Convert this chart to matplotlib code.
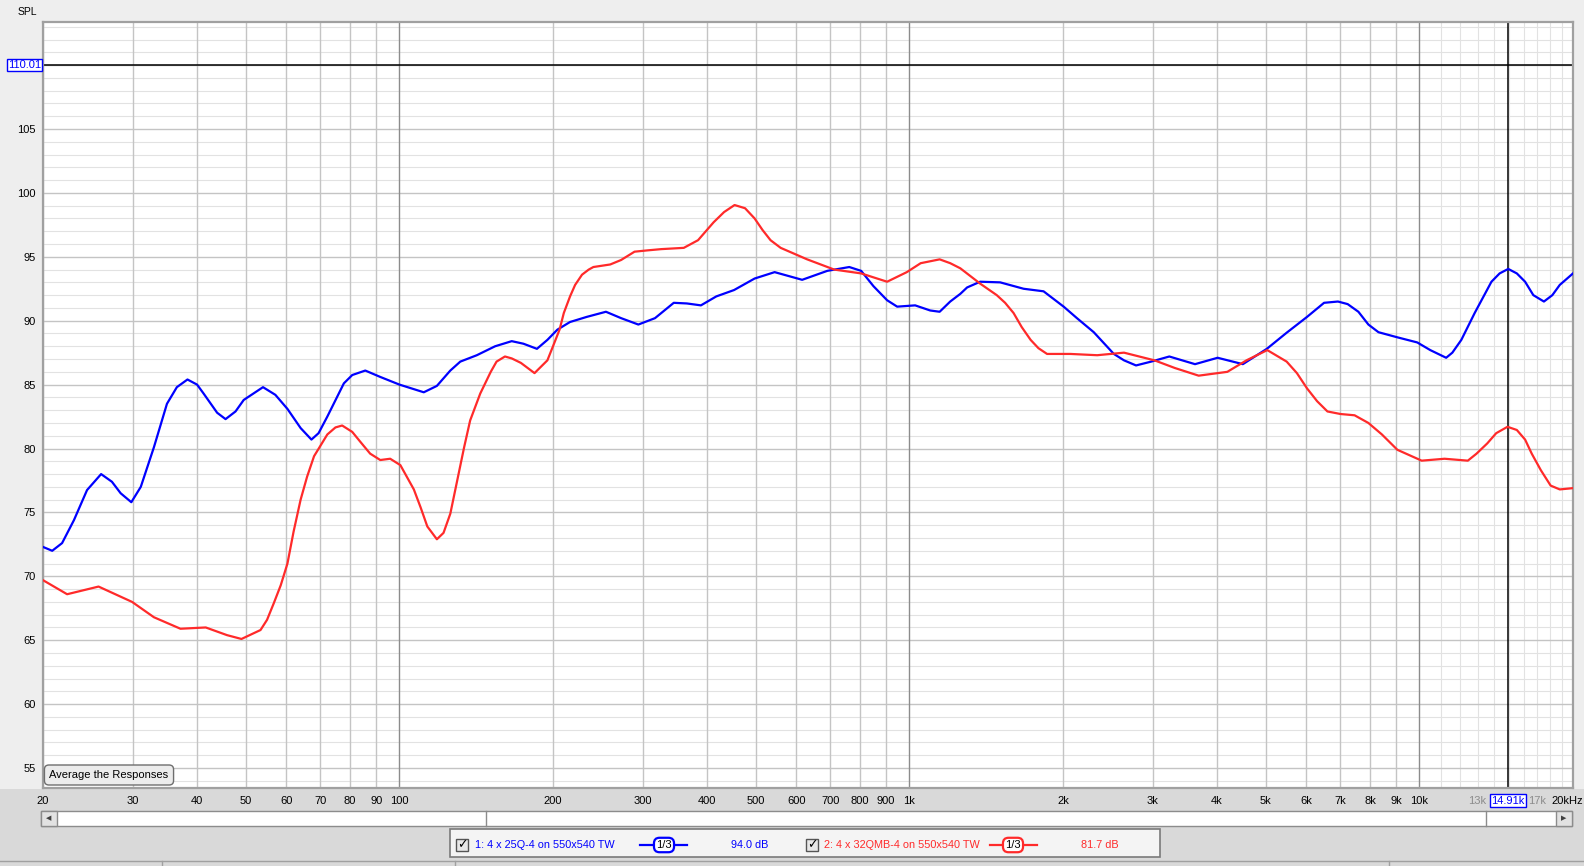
import matplotlib
matplotlib.use("Agg")
import matplotlib.pyplot as plt
from matplotlib.patches import Rectangle
from matplotlib.lines import Line2D
from matplotlib.transforms import ScaledTranslation

plt.rcParams['font.family'] = ['Liberation Sans', 'DejaVu Sans']

# response 1: 4 x 25Q-4 on 550x540 TW (blue)
blue_freq = [20, 20.85, 21.8, 23.0, 24.4, 26.0, 27.3, 28.4, 29.8, 31.1, 33.0, 35.0, 36.6, 38.4,
             40.1, 41.3, 43.9, 45.6, 47.7, 49.5, 54.0, 57.1, 60.3, 64.0, 67.2, 69.4, 72.2, 77.8,
             80.8, 85.7, 91.7, 100, 111.6, 118.4, 125.8, 131.6, 141.8, 154, 166, 175, 186, 195,
             204, 216, 233, 254, 272, 294, 317, 345, 366, 390, 418, 453, 497, 544, 616, 690,
             762, 804, 850, 904, 946, 1026, 1098, 1146, 1202, 1258, 1297, 1376, 1506, 1674,
             1832, 2006, 2130, 2298, 2516, 2634, 2781, 2978, 3232, 3630, 4020, 4505, 5020,
             5490, 6020, 6500, 6920, 7230, 7590, 7940, 8310, 9050, 9900, 10500, 11280, 11600,
             12080, 12830, 13840, 14360, 14930, 15520, 16110, 16720, 17540, 18220, 18840, 20000]
blue_spl = [72.3, 72.0, 72.6, 74.4, 76.75, 78.0, 77.4, 76.5, 75.8, 77.0, 80.1, 83.5, 84.8, 85.4,
            85.0, 84.3, 82.8, 82.3, 82.9, 83.8, 84.8, 84.2, 83.1, 81.6, 80.7, 81.2, 82.5, 85.1,
            85.75, 86.1, 85.6, 85.0, 84.4, 84.9, 86.1, 86.8, 87.3, 88.0, 88.4, 88.2, 87.8, 88.5,
            89.3, 89.9, 90.3, 90.7, 90.2, 89.7, 90.2, 91.4, 91.35, 91.2, 91.9, 92.4, 93.3, 93.8,
            93.2, 93.9, 94.2, 93.9, 92.7, 91.6, 91.1, 91.2, 90.8, 90.7, 91.5, 92.1, 92.6, 93.05,
            93.0, 92.5, 92.3, 91.1, 90.2, 89.1, 87.4, 86.9, 86.5, 86.8, 87.2, 86.6, 87.1, 86.6,
            87.8, 89.06, 90.3, 91.4, 91.5, 91.3, 90.7, 89.7, 89.1, 88.7, 88.3, 87.7, 87.1, 87.5,
            88.5, 90.6, 93.05, 93.7, 94.05, 93.7, 93.05, 92.0, 91.5, 92.0, 92.8, 93.7]

# response 2: 4 x 32QMB-4 on 550x540 TW (red)
red_freq = [20, 22.3, 25.7, 29.9, 33.0, 37.2, 41.7, 45.9, 49.0, 53.4, 55.0, 56.7, 58.5, 60.3,
            62.0, 64.0, 65.9, 68.0, 72.2, 74.9, 77.2, 80.8, 83.9, 87.6, 91.7, 95.9, 100.4, 106.7,
            110, 113.4, 118.4, 122, 125.8, 133.9, 137.6, 144, 151, 155, 161, 166, 173, 184, 195,
            200, 206, 210, 216, 221, 228, 235, 240, 259, 272, 289, 306, 326, 361, 385, 413, 433,
            454, 476, 497, 515, 534, 559, 630, 712, 804, 904, 988, 1052, 1146, 1202, 1258, 1376,
            1483, 1540, 1600, 1660, 1728, 1790, 1861, 2068, 2334, 2634, 3022, 3314, 3690, 4200,
            4580, 5030, 5490, 5750, 6020, 6300, 6600, 7000, 7460, 7940, 8440, 9050, 10100, 11200,
            12440, 12940, 13580, 14140, 14880, 15520, 16110, 16600, 17300, 18080, 18840, 20000]
red_spl = [69.7, 68.6, 69.2, 68.0, 66.8, 65.9, 66.0, 65.4, 65.1, 65.8, 66.6, 67.9, 69.3, 71.0,
           73.5, 76.0, 77.8, 79.4, 81.1, 81.65, 81.8, 81.3, 80.5, 79.6, 79.1, 79.2, 78.7, 76.8,
           75.4, 73.9, 72.9, 73.4, 74.9, 80.1, 82.2, 84.3, 86.0, 86.8, 87.2, 87.05, 86.7, 85.9,
           86.9, 88.0, 89.3, 90.6, 91.9, 92.8, 93.6, 94.0, 94.2, 94.4, 94.75, 95.4, 95.5, 95.6,
           95.7, 96.3, 97.7, 98.5, 99.05, 98.8, 98.0, 97.1, 96.3, 95.7, 94.8, 94.0, 93.7, 93.05,
           93.8, 94.5, 94.8, 94.5, 94.1, 92.9, 92.0, 91.4, 90.6, 89.5, 88.5, 87.85, 87.4, 87.4,
           87.3, 87.5, 86.9, 86.3, 85.7, 86.0, 86.9, 87.7, 86.8, 85.9, 84.7, 83.7, 82.9, 82.7,
           82.6, 82.0, 81.1, 79.9, 79.05, 79.2, 79.05, 79.6, 80.4, 81.2, 81.7, 81.45, 80.7, 79.6,
           78.3, 77.1, 76.8, 76.9]

y_ticks = [55, 60, 65, 70, 75, 80, 85, 90, 95, 100, 105]
x_ticks = [20, 30, 40, 50, 60, 70, 80, 90, 100, 200, 300, 400, 500, 600, 700, 800, 900,
           1000, 2000, 3000, 4000, 5000, 6000, 7000, 8000, 9000, 10000, 13000, 17000, 20000]
x_labels = ['20', '30', '40', '50', '60', '70', '80', '90', '100', '200', '300', '400', '500',
            '600', '700', '800', '900', '1k', '2k', '3k', '4k', '5k', '6k', '7k', '8k', '9k',
            '10k', '13k', '17k', '20kHz']
cursor_freq = 14910
cursor_spl = 110.01

W, H = 1584, 866


def fx(x):
    return x / W


def fy(y):
    return 1 - y / H


fig = plt.figure(figsize=(W / 100, H / 100), dpi=100, facecolor='#eeeeee')
fig.add_artist(Rectangle((0, 0), 1, fy(789), transform=fig.transFigure,
                         fc='#d9d9d9', ec='none', zorder=-5))

ax = fig.add_axes([fx(43), fy(788), (1573 - 43) / W, (788 - 22) / H])
ax.set_xscale('log')
ax.set_xlim(20, 20000)
ax.set_ylim(53.44, 113.37)
ax.set_facecolor('white')

# grid
for db in range(54, 114):
    if db % 5 == 0:
        ax.axhline(db, color='#c4c4c4', lw=1.0, zorder=1)
    else:
        ax.axhline(db, color='#e2e2e2', lw=0.8, zorder=0.5)
for dec in [10, 100, 1000]:
    for m in range(2, 10):
        f = dec * m
        if 20 <= f <= 10000:
            ax.axvline(f, color='#c4c4c4', lw=1.0, zorder=1)
for f in [100, 1000, 10000]:
    ax.axvline(f, color='#8c8c8c', lw=1.0, zorder=1.2)
for f in range(11000, 20000, 1000):
    ax.axvline(f, color='#e2e2e2', lw=0.8, zorder=0.5)

# cursor
ax.axhline(cursor_spl, color='black', lw=1.1, zorder=2)
ax.axvline(cursor_freq, color='black', lw=1.1, zorder=2)

ax.plot(blue_freq, blue_spl, color='#0000ff', lw=1.6, zorder=3, solid_joinstyle='round')
ax.plot(red_freq, red_spl, color='#ff2a2a', lw=1.6, zorder=3, solid_joinstyle='round')

for s in ax.spines.values():
    s.set_color('#a0a0a0')
    s.set_linewidth(1.6)

ax.set_yticks(y_ticks)
ax.set_yticklabels([str(v) for v in y_ticks])
ax.set_xticks(x_ticks)
ax.set_xticklabels(x_labels)
ax.minorticks_off()
ax.tick_params(axis='both', length=0, labelsize=8)
ax.tick_params(axis='y', pad=5)
ax.tick_params(axis='x', pad=6)
for lab in ax.get_xticklabels():
    if lab.get_text() in ('13k', '17k'):
        lab.set_color('#8c8c8c')
    if lab.get_text() == '20kHz':
        lab.set_horizontalalignment('right')
        lab.set_transform(lab.get_transform() + ScaledTranslation(0.105, 0, fig.dpi_scale_trans))

ax.text(cursor_freq, -0.0165, '14.91k', transform=ax.get_xaxis_transform(),
        ha='center', va='center', color='#0000ff', fontsize=8,
        bbox=dict(boxstyle='square,pad=0.12', fc='white', ec='#0000ff', lw=1.0))
ax.text(-0.0012, cursor_spl, '110.01', transform=ax.get_yaxis_transform(),
        ha='right', va='center', color='#0000ff', fontsize=8,
        bbox=dict(boxstyle='square,pad=0.1', fc='white', ec='#0000ff', lw=1.0))

fig.text(fx(27), fy(12), 'SPL', ha='center', va='center', fontsize=7.5)

fig.text(fx(109), fy(775), 'Average the Responses', ha='center', va='center', fontsize=8,
         bbox=dict(boxstyle='round,pad=0.45,rounding_size=0.4', fc='#ececec', ec='#6e6e6e', lw=1.0))

# scrollbar
fig.add_artist(Rectangle((fx(41), fy(826)), (1572 - 41) / W, 15 / H, transform=fig.transFigure,
                         fc='white', ec='#8c8c8c', lw=1.0))
for x0 in [41, 1556]:
    fig.add_artist(Rectangle((fx(x0), fy(826)), 16 / W, 15 / H, transform=fig.transFigure,
                             fc='#e2e2e2', ec='#8c8c8c', lw=1.0))
fig.text(fx(49), fy(818.5), '\u25c0', ha='center', va='center', fontsize=5,
         family='DejaVu Sans', color='#404040')
fig.text(fx(1564), fy(818.5), '\u25b6', ha='center', va='center', fontsize=5,
         family='DejaVu Sans', color='#404040')
for xl in [486, 1486]:
    fig.add_artist(Line2D([fx(xl), fx(xl)], [fy(811), fy(826)], transform=fig.transFigure,
                          color='#8c8c8c', lw=1.0))

# legend panel
fig.add_artist(Rectangle((fx(450), fy(857)), (1160 - 450) / W, 28 / H, transform=fig.transFigure,
                         fc='#f4f4f4', ec='#7a7a7a', lw=1.2))
legend_items = [
    (462, '1: 4 x 25Q-4 on 550x540 TW', 475, 640, 687, 664, '94.0 dB', 731, '#0000ff'),
    (812, '2: 4 x 32QMB-4 on 550x540 TW', 824, 990, 1037, 1013, '81.7 dB', 1081, '#ff2a2a'),
]
ly = 845
for cbx, name, tx, l0, l1, bx, val, vx, col in legend_items:
    fig.add_artist(Rectangle((fx(cbx - 6), fy(ly + 6)), 12 / W, 12 / H, transform=fig.transFigure,
                             fc='#e8e8e8', ec='#555555', lw=1.0))
    fig.text(fx(cbx), fy(ly), '\u2713', ha='center', va='center', fontsize=9,
             family='DejaVu Sans', fontweight='bold', color='black')
    fig.text(fx(tx), fy(ly), name, ha='left', va='center', fontsize=7.8, color=col)
    fig.add_artist(Line2D([fx(l0), fx(l1)], [fy(ly), fy(ly)], transform=fig.transFigure,
                          color=col, lw=1.6))
    fig.text(fx(bx), fy(ly), '1/3', ha='center', va='center', fontsize=8, color='black',
             bbox=dict(boxstyle='round,pad=0.2,rounding_size=0.5', fc='white', ec=col, lw=1.6))
    fig.text(fx(vx), fy(ly), val, ha='left', va='center', fontsize=7.8, color=col)

# status bar divider
fig.add_artist(Line2D([0, 1], [fy(861), fy(861)], transform=fig.transFigure,
                      color='#a0a0a0', lw=1.0))
for xs in [162, 455, 1389]:
    fig.add_artist(Line2D([fx(xs), fx(xs)], [fy(861), 0], transform=fig.transFigure,
                          color='#a0a0a0', lw=1.0))

fig.savefig('out.png', dpi=100, facecolor=fig.get_facecolor())
